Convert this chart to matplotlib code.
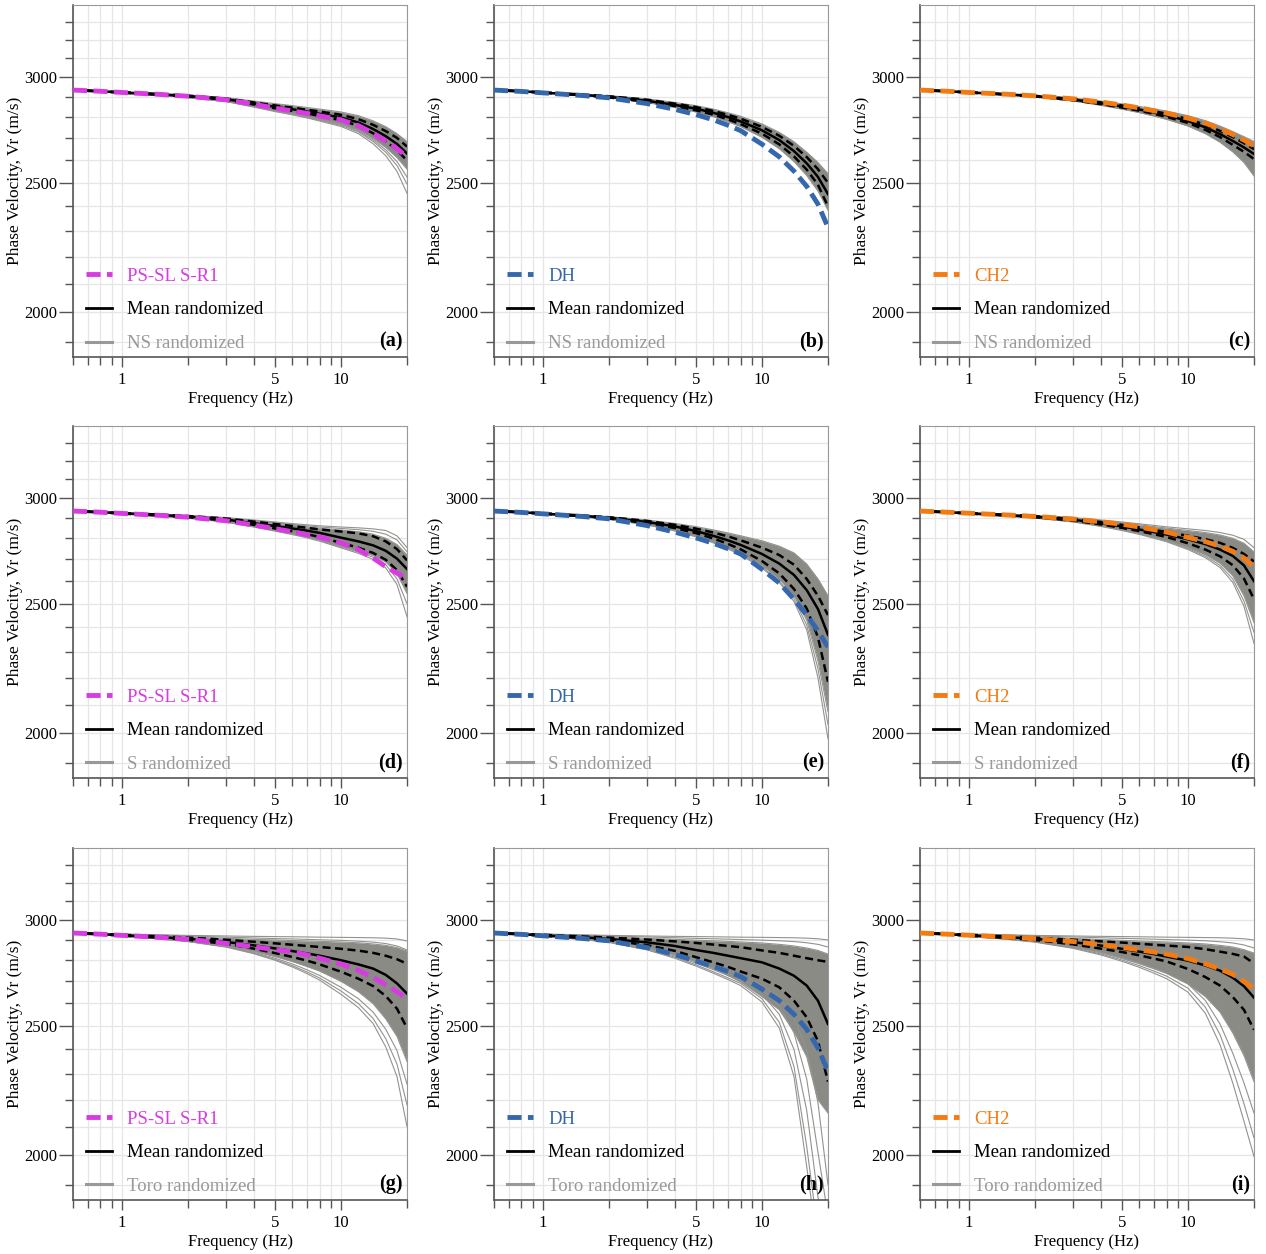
import matplotlib
matplotlib.use('Agg')
import matplotlib.pyplot as plt
from matplotlib.ticker import NullFormatter
from matplotlib.lines import Line2D

plt.rcParams['font.family'] = 'serif'
plt.rcParams['font.serif'] = ['Liberation Serif', 'DejaVu Serif']

freq = [0.6, 0.8, 1, 1.5, 2, 3, 4, 5, 6, 7, 8, 10, 12, 14, 16, 18, 20]

# ---- (a) PS-SL S-R1 / NS randomized
ref_a = [2935, 2929, 2923, 2913, 2904, 2886, 2864, 2845, 2831, 2819, 2807, 2788, 2760, 2724, 2686, 2652, 2615]
mean_a = [2935, 2929, 2923, 2913, 2905, 2889, 2868, 2851, 2839, 2828, 2817, 2799, 2775, 2744, 2710, 2674, 2630]
hi_a = [2936, 2930, 2924, 2915, 2907, 2892, 2873, 2858, 2847, 2837, 2828, 2812, 2791, 2764, 2734, 2702, 2662]
lo_a = [2934, 2928, 2922, 2911, 2903, 2886, 2863, 2844, 2831, 2819, 2806, 2786, 2759, 2724, 2686, 2646, 2598]
top_a = [2937, 2931, 2926, 2917, 2910, 2897, 2880, 2867, 2857, 2848, 2840, 2826, 2808, 2783, 2755, 2722, 2685]
bot_a = [2933, 2926, 2920, 2908, 2899, 2880, 2855, 2835, 2820, 2806, 2792, 2769, 2740, 2700, 2658, 2612, 2560]
gray_a = [
    [2933, 2926, 2919, 2907, 2897, 2877, 2850, 2828, 2812, 2797, 2782, 2756, 2722, 2675, 2620, 2550, 2455],
    [2933, 2926, 2919, 2907, 2898, 2878, 2852, 2831, 2815, 2800, 2786, 2761, 2730, 2686, 2636, 2576, 2495],
    [2933, 2926, 2920, 2908, 2898, 2879, 2853, 2833, 2818, 2803, 2789, 2765, 2735, 2693, 2647, 2594, 2525],
]

# ---- (b) DH / NS randomized
ref_b = [2935, 2928, 2921, 2908, 2896, 2867, 2839, 2813, 2788, 2762, 2736, 2673, 2615, 2551, 2485, 2410, 2315]
mean_b = [2935, 2929, 2922, 2911, 2901, 2881, 2861, 2842, 2822, 2801, 2780, 2738, 2692, 2641, 2586, 2526, 2452]
hi_b = [2936, 2930, 2924, 2913, 2904, 2886, 2867, 2850, 2831, 2812, 2793, 2754, 2712, 2665, 2614, 2560, 2500]
lo_b = [2934, 2928, 2921, 2909, 2898, 2876, 2855, 2834, 2813, 2790, 2767, 2722, 2672, 2617, 2558, 2492, 2400]
top_b = [2937, 2931, 2925, 2915, 2907, 2891, 2873, 2857, 2840, 2822, 2805, 2768, 2728, 2684, 2636, 2590, 2540]
bot_b = [2933, 2927, 2920, 2907, 2896, 2872, 2849, 2826, 2803, 2779, 2755, 2705, 2652, 2594, 2532, 2465, 2385]
gray_b = []

# ---- (c) CH2 / NS randomized
ref_c = [2935, 2929, 2923, 2914, 2906, 2891, 2875, 2860, 2846, 2832, 2820, 2796, 2772, 2746, 2718, 2692, 2665]
mean_c = [2935, 2929, 2923, 2913, 2904, 2887, 2869, 2853, 2838, 2824, 2810, 2782, 2752, 2720, 2688, 2658, 2628]
hi_c = [2936, 2930, 2924, 2914, 2906, 2890, 2873, 2858, 2844, 2830, 2817, 2791, 2764, 2735, 2706, 2678, 2650]
lo_c = [2934, 2928, 2922, 2912, 2903, 2884, 2865, 2848, 2832, 2817, 2802, 2773, 2740, 2706, 2670, 2638, 2605]
top_c = [2937, 2931, 2926, 2917, 2909, 2895, 2880, 2866, 2853, 2841, 2830, 2808, 2784, 2758, 2732, 2708, 2685]
bot_c = [2933, 2927, 2921, 2910, 2900, 2880, 2859, 2840, 2823, 2806, 2790, 2758, 2722, 2682, 2638, 2590, 2530]
gray_c = []

# ---- (d) PS-SL S-R1 / S randomized
ref_d = [2935, 2929, 2923, 2913, 2904, 2886, 2865, 2847, 2832, 2818, 2806, 2778, 2746, 2706, 2666, 2636, 2608]
mean_d = [2935, 2929, 2924, 2915, 2907, 2892, 2874, 2860, 2848, 2837, 2826, 2803, 2785, 2766, 2740, 2703, 2655]
hi_d = [2936, 2930, 2925, 2917, 2910, 2897, 2882, 2870, 2860, 2851, 2843, 2833, 2824, 2810, 2785, 2748, 2695]
lo_d = [2934, 2928, 2922, 2912, 2904, 2887, 2866, 2848, 2834, 2820, 2806, 2778, 2755, 2730, 2698, 2650, 2575]
top_d = [2936, 2931, 2926, 2918, 2911, 2898, 2884, 2873, 2864, 2856, 2849, 2840, 2832, 2820, 2800, 2770, 2720]
bot_d = [2933, 2927, 2921, 2910, 2901, 2882, 2859, 2840, 2824, 2808, 2793, 2762, 2740, 2718, 2688, 2635, 2545]
gray_d = [
    [2937, 2932, 2927, 2919, 2913, 2902, 2890, 2880, 2872, 2866, 2861, 2855, 2851, 2846, 2838, 2812, 2755],
    [2937, 2931, 2926, 2918, 2912, 2900, 2887, 2876, 2868, 2861, 2855, 2848, 2842, 2834, 2820, 2792, 2735],
    [2933, 2926, 2920, 2908, 2899, 2879, 2855, 2835, 2818, 2802, 2786, 2754, 2728, 2700, 2660, 2585, 2445],
    [2933, 2927, 2920, 2909, 2900, 2880, 2857, 2837, 2821, 2805, 2790, 2758, 2734, 2710, 2675, 2610, 2500],
]

# ---- (e) DH / S randomized
ref_e = [2935, 2928, 2921, 2908, 2896, 2862, 2830, 2802, 2776, 2750, 2725, 2654, 2592, 2520, 2452, 2386, 2320]
mean_e = [2935, 2929, 2922, 2911, 2901, 2880, 2858, 2835, 2812, 2790, 2768, 2725, 2680, 2628, 2560, 2478, 2370]
hi_e = [2936, 2930, 2924, 2913, 2904, 2885, 2866, 2847, 2828, 2809, 2790, 2755, 2720, 2675, 2610, 2535, 2452]
lo_e = [2934, 2928, 2921, 2909, 2898, 2874, 2850, 2825, 2799, 2773, 2747, 2692, 2635, 2565, 2480, 2360, 2185]
top_e = [2937, 2931, 2925, 2915, 2907, 2890, 2873, 2857, 2841, 2826, 2812, 2788, 2762, 2730, 2678, 2610, 2535]
bot_e = [2933, 2927, 2920, 2907, 2895, 2868, 2840, 2812, 2784, 2756, 2728, 2672, 2610, 2535, 2430, 2265, 2075]
gray_e = [
    [2933, 2926, 2919, 2906, 2893, 2865, 2836, 2807, 2778, 2749, 2720, 2660, 2594, 2510, 2390, 2200, 1980],
    [2933, 2926, 2919, 2906, 2894, 2866, 2838, 2809, 2781, 2752, 2724, 2665, 2600, 2522, 2410, 2235, 2030],
]

# ---- (f) CH2 / S randomized
ref_f = [2935, 2929, 2924, 2915, 2908, 2895, 2881, 2869, 2855, 2842, 2830, 2804, 2784, 2762, 2738, 2706, 2665]
mean_f = [2935, 2929, 2923, 2914, 2906, 2891, 2874, 2858, 2843, 2830, 2818, 2795, 2772, 2746, 2716, 2672, 2600]
hi_f = [2936, 2930, 2924, 2916, 2909, 2895, 2880, 2866, 2853, 2841, 2830, 2812, 2796, 2778, 2754, 2725, 2690]
lo_f = [2934, 2928, 2922, 2912, 2904, 2887, 2868, 2851, 2835, 2820, 2806, 2776, 2746, 2714, 2673, 2612, 2520]
top_f = [2937, 2931, 2926, 2918, 2911, 2900, 2887, 2876, 2866, 2857, 2850, 2838, 2828, 2816, 2800, 2776, 2735]
bot_f = [2933, 2927, 2921, 2910, 2901, 2882, 2861, 2842, 2824, 2806, 2790, 2756, 2722, 2682, 2625, 2535, 2420]
gray_f = [
    [2933, 2926, 2920, 2909, 2900, 2880, 2858, 2838, 2819, 2800, 2783, 2746, 2708, 2662, 2595, 2490, 2335],
    [2933, 2927, 2920, 2909, 2900, 2881, 2860, 2840, 2822, 2803, 2787, 2751, 2715, 2672, 2610, 2512, 2380],
    [2937, 2932, 2927, 2919, 2913, 2902, 2890, 2880, 2871, 2863, 2856, 2846, 2838, 2828, 2815, 2795, 2755],
]

# ---- (g) PS-SL S-R1 / Toro randomized
ref_g = [2935, 2929, 2923, 2913, 2904, 2883, 2866, 2852, 2842, 2826, 2810, 2782, 2752, 2718, 2684, 2652, 2620]
mean_g = [2935, 2929, 2924, 2914, 2906, 2890, 2873, 2858, 2845, 2833, 2822, 2800, 2780, 2760, 2730, 2690, 2643]
hi_g = [2936, 2931, 2926, 2918, 2912, 2901, 2891, 2883, 2876, 2870, 2865, 2856, 2847, 2836, 2822, 2805, 2783]
lo_g = [2934, 2928, 2922, 2911, 2901, 2880, 2857, 2835, 2816, 2798, 2780, 2745, 2712, 2678, 2632, 2575, 2490]
top_g = [2936, 2931, 2927, 2920, 2915, 2908, 2903, 2900, 2897, 2895, 2893, 2890, 2886, 2880, 2873, 2862, 2845]
bot_g = [2933, 2927, 2920, 2907, 2895, 2870, 2844, 2818, 2794, 2770, 2748, 2700, 2652, 2598, 2530, 2455, 2350]
gray_g = [
    [2937, 2933, 2930, 2926, 2923, 2920, 2918, 2917, 2916, 2915, 2914, 2913, 2912, 2911, 2909, 2905, 2895],
    [2937, 2932, 2929, 2924, 2920, 2914, 2910, 2907, 2905, 2903, 2901, 2898, 2894, 2889, 2882, 2870, 2850],
    [2933, 2926, 2919, 2905, 2892, 2864, 2832, 2800, 2768, 2736, 2705, 2640, 2580, 2510, 2410, 2290, 2100],
    [2933, 2926, 2919, 2905, 2893, 2866, 2835, 2804, 2774, 2744, 2715, 2655, 2598, 2532, 2445, 2340, 2180],
    [2933, 2926, 2919, 2906, 2894, 2868, 2839, 2810, 2782, 2754, 2727, 2672, 2620, 2560, 2485, 2395, 2260],
]

# ---- (h) DH / Toro randomized
ref_h = [2935, 2928, 2921, 2908, 2896, 2862, 2828, 2796, 2770, 2746, 2722, 2664, 2611, 2550, 2485, 2406, 2312]
mean_h = [2935, 2929, 2923, 2914, 2905, 2888, 2870, 2850, 2836, 2822, 2810, 2790, 2760, 2726, 2680, 2611, 2508]
hi_h = [2936, 2931, 2926, 2918, 2912, 2902, 2893, 2885, 2877, 2870, 2864, 2848, 2836, 2822, 2810, 2800, 2792]
lo_h = [2934, 2928, 2921, 2910, 2899, 2874, 2846, 2815, 2790, 2768, 2746, 2712, 2672, 2611, 2537, 2435, 2270]
top_h = [2936, 2931, 2927, 2920, 2915, 2908, 2903, 2899, 2896, 2893, 2890, 2885, 2878, 2870, 2860, 2848, 2830]
bot_h = [2933, 2927, 2920, 2906, 2893, 2862, 2828, 2793, 2760, 2728, 2697, 2630, 2570, 2475, 2370, 2200, 2150]
gray_h = [
    [2937, 2933, 2930, 2926, 2923, 2920, 2918, 2917, 2916, 2915, 2914, 2913, 2912, 2911, 2909, 2906, 2900],
    [2937, 2932, 2929, 2924, 2920, 2915, 2911, 2908, 2906, 2904, 2902, 2899, 2896, 2892, 2886, 2878, 2865],
    [2933, 2926, 2918, 2903, 2888, 2850, 2810, 2772, 2738, 2708, 2680, 2605, 2490, 2290, 1960, 1700, 1600],
    [2933, 2926, 2918, 2903, 2889, 2853, 2815, 2778, 2745, 2716, 2690, 2620, 2515, 2330, 2030, 1750, 1650],
    [2933, 2926, 2919, 2905, 2891, 2857, 2821, 2786, 2755, 2727, 2702, 2640, 2550, 2400, 2160, 1860, 1700],
    [2933, 2926, 2919, 2906, 2893, 2861, 2827, 2794, 2765, 2738, 2714, 2660, 2590, 2470, 2280, 2010, 1800],
    [2933, 2927, 2920, 2907, 2895, 2866, 2835, 2804, 2777, 2752, 2730, 2682, 2625, 2535, 2400, 2190, 1900],
]

# ---- (i) CH2 / Toro randomized
ref_i = [2935, 2929, 2924, 2915, 2907, 2892, 2877, 2863, 2851, 2840, 2830, 2808, 2783, 2758, 2733, 2700, 2665]
mean_i = [2935, 2929, 2923, 2914, 2906, 2889, 2872, 2856, 2842, 2830, 2818, 2798, 2775, 2750, 2717, 2677, 2625]
hi_i = [2936, 2931, 2926, 2918, 2912, 2901, 2893, 2887, 2881, 2876, 2872, 2865, 2854, 2842, 2831, 2818, 2785]
lo_i = [2934, 2928, 2921, 2910, 2900, 2878, 2857, 2840, 2824, 2808, 2794, 2758, 2720, 2680, 2628, 2570, 2483]
top_i = [2936, 2931, 2927, 2920, 2915, 2908, 2902, 2898, 2895, 2892, 2890, 2885, 2880, 2873, 2865, 2852, 2835]
bot_i = [2933, 2927, 2920, 2906, 2894, 2868, 2840, 2812, 2787, 2762, 2738, 2688, 2630, 2560, 2470, 2375, 2270]
gray_i = [
    [2937, 2933, 2930, 2926, 2923, 2920, 2918, 2917, 2916, 2915, 2914, 2913, 2912, 2911, 2909, 2906, 2900],
    [2937, 2932, 2929, 2924, 2920, 2915, 2911, 2908, 2906, 2904, 2902, 2899, 2896, 2891, 2885, 2875, 2860],
    [2933, 2926, 2918, 2903, 2889, 2858, 2826, 2795, 2766, 2738, 2712, 2650, 2555, 2420, 2265, 2120, 1995],
    [2933, 2926, 2919, 2904, 2891, 2861, 2831, 2801, 2774, 2748, 2724, 2668, 2582, 2462, 2320, 2185, 2060],
    [2933, 2926, 2919, 2905, 2892, 2864, 2836, 2808, 2783, 2759, 2737, 2688, 2612, 2508, 2385, 2265, 2150],
]

ref_names = ['PS-SL S-R1', 'DH', 'CH2']
ref_colors = ['#d93be3', '#3567ad', '#f27b13']
rand_names = ['NS randomized', 'S randomized', 'Toro randomized']
letters = ['a', 'b', 'c', 'd', 'e', 'f', 'g', 'h', 'i']

panels = [
    (ref_a, mean_a, hi_a, lo_a, top_a, bot_a, gray_a),
    (ref_b, mean_b, hi_b, lo_b, top_b, bot_b, gray_b),
    (ref_c, mean_c, hi_c, lo_c, top_c, bot_c, gray_c),
    (ref_d, mean_d, hi_d, lo_d, top_d, bot_d, gray_d),
    (ref_e, mean_e, hi_e, lo_e, top_e, bot_e, gray_e),
    (ref_f, mean_f, hi_f, lo_f, top_f, bot_f, gray_f),
    (ref_g, mean_g, hi_g, lo_g, top_g, bot_g, gray_g),
    (ref_h, mean_h, hi_h, lo_h, top_h, bot_h, gray_h),
    (ref_i, mean_i, hi_i, lo_i, top_i, bot_i, gray_i),
]

gray_line = '#929290'
gray_fill = '#8b8b86'
legend_gray = '#999999'

fig = plt.figure(figsize=(12.66, 12.54), dpi=100)
lefts = [0.0577, 0.3902, 0.7267]
bottoms = [0.7153, 0.3796, 0.0431]
w, h = 0.2638, 0.2807

for k, (ref, mean, hi, lo, top, bot, grays) in enumerate(panels):
    r, c = divmod(k, 3)
    ax = fig.add_axes([lefts[c], bottoms[r], w, h])
    ax.set_xscale('log')
    ax.set_yscale('log')

    # randomized profiles: dense core plus single curves
    ax.fill_between(freq, bot, top, color=gray_fill, lw=0, zorder=1)
    ax.plot(freq, top, color=gray_line, lw=0.8, zorder=1.2)
    ax.plot(freq, bot, color=gray_line, lw=0.8, zorder=1.2)
    for g in grays:
        ax.plot(freq, g, color=gray_line, lw=0.8, zorder=1.2)

    ax.plot(freq, hi, color='k', lw=1.8, dashes=(3.2, 1.8), zorder=3)
    ax.plot(freq, lo, color='k', lw=1.8, dashes=(3.2, 1.8), zorder=3)
    ax.plot(freq, mean, color='k', lw=1.8, zorder=3.5)
    ax.plot(freq, ref, color=ref_colors[c], lw=3.5, dashes=(2.9, 1.3), zorder=4)

    ax.set_xlim(0.6, 20)
    ax.set_ylim(1850, 3400)

    ax.set_xticks([1, 5, 10])
    ax.set_xticklabels(['1', '5', '10'])
    ax.set_xticks([0.6, 0.7, 0.8, 0.9, 2, 3, 4, 6, 7, 8, 9, 20], minor=True)
    ax.xaxis.set_minor_formatter(NullFormatter())
    ax.set_yticks([2000, 2500, 3000])
    ax.set_yticklabels(['2000', '2500', '3000'])
    ax.set_yticks(list(range(1900, 3400, 100)), minor=True)
    ax.yaxis.set_minor_formatter(NullFormatter())

    ax.grid(True, which='both', color='#e6e6e6', lw=0.9)
    ax.set_axisbelow(True)

    ax.tick_params(axis='y', which='major', length=10, width=1, color='#555555', pad=1.5, labelsize=12)
    ax.tick_params(axis='y', which='minor', length=5.5, width=1, color='#555555')
    ax.tick_params(axis='x', which='major', length=7, width=1, color='#555555', pad=4, labelsize=12)
    ax.tick_params(axis='x', which='minor', length=6, width=1, color='#555555')

    for side in ['left', 'bottom']:
        ax.spines[side].set_color('#555555')
        ax.spines[side].set_linewidth(1.2)
    for side in ['top', 'right']:
        ax.spines[side].set_color('#999999')
        ax.spines[side].set_linewidth(0.8)

    ax.set_xlabel('Frequency (Hz)', fontsize=12, labelpad=2)
    ax.set_ylabel('Phase Velocity, Vr (m/s)', fontsize=12.5, labelpad=1)

    handles = [
        Line2D([], [], color=ref_colors[c], lw=3.5, dashes=(2.9, 1.3)),
        Line2D([], [], color='k', lw=2),
        Line2D([], [], color=legend_gray, lw=2.2),
    ]
    leg = ax.legend(handles, [ref_names[c], 'Mean randomized', rand_names[r]],
                    loc='lower left', bbox_to_anchor=(0.039, 0.014), frameon=False,
                    fontsize=13.5, handlelength=1.4, handletextpad=0.8,
                    labelspacing=0.88, borderpad=0, borderaxespad=0)
    for t, col in zip(leg.get_texts(), [ref_colors[c], 'k', legend_gray]):
        t.set_color(col)

    ax.text(0.988, 0.045, '(' + letters[k] + ')', transform=ax.transAxes,
            ha='right', va='center', fontsize=14.5, fontweight='bold')

fig.savefig('out.png', dpi=100)
